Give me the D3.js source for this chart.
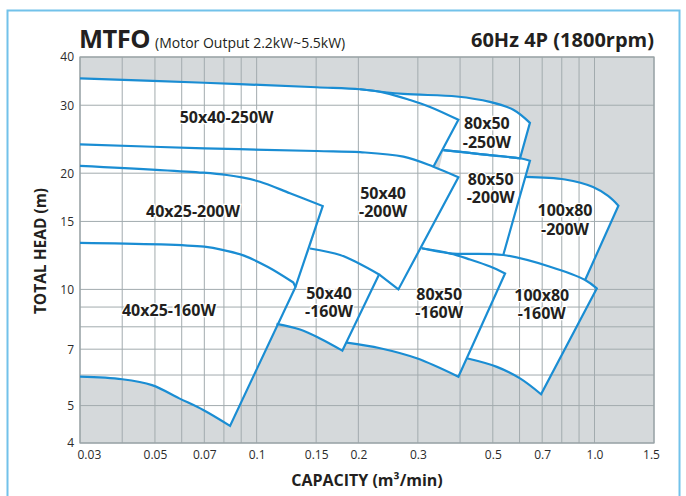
<!DOCTYPE html>
<html>
<head>
<meta charset="utf-8">
<script src="https://cdn.jsdelivr.net/npm/d3@7"></script>
<style>
  body { margin: 0; background: #fff; }
  text { font-family: "Open Sans", "Noto Sans", sans-serif; }
</style>
</head>
<body>
<div id="chart"></div>
<script>
const width = 686, height = 496;

// axis ticks and grid
const xTicks = [0.03, 0.05, 0.07, 0.1, 0.15, 0.2, 0.3, 0.5, 0.7, 1.0, 1.5];
const xTickLabels = ["0.03", "0.05", "0.07", "0.1", "0.15", "0.2", "0.3", "0.5", "0.7", "1.0", "1.5"];
const xGrid = [0.03, 0.04, 0.05, 0.06, 0.07, 0.08, 0.09, 0.1, 0.15, 0.2, 0.3, 0.4, 0.5, 0.6, 0.7, 0.8, 0.9, 1.0, 1.5];
const yTicks = [40, 30, 20, 15, 10, 7, 5, 4];
const yGrid = [4, 5, 6, 7, 8, 9, 10, 15, 20, 30, 40];

// pump curves [capacity m3/min, head m]
const top_40x25_160W = [[0.03, 13.2], [0.07, 12.9], [0.081, 12.6], [0.0913, 12.25], [0.108, 11.43], [0.1284, 10.42]];
const hook_40x25 = [0.1303, 10.15];
const bot_40x25_160W = [[0.03, 5.94], [0.040, 5.85], [0.049, 5.65], [0.059, 5.22], [0.0695, 4.87], [0.0834, 4.43]];

const top_40x25_200W = [[0.03, 20.9], [0.0695, 20.06], [0.0816, 19.79], [0.0913, 19.47], [0.1023, 19.01], [0.1255, 17.75], [0.1569, 16.44]];

const top_50x40_160W = [[0.1439, 12.76], [0.1766, 12.28], [0.1996, 11.7], [0.2303, 10.93]];
const bot_50x40_160W = [[0.1145, 8.14], [0.1344, 7.87], [0.154, 7.46], [0.1793, 6.94]];

const top_50x40_200W = [[0.03, 23.76], [0.070, 23.2], [0.1506, 22.83], [0.2023, 22.67], [0.2718, 22.07], [0.3335, 20.79], [0.3955, 19.52]];
const edge_50x40_200W = [[0.2627, 10.0], [0.2303, 10.93]];

const top_50x40_250W = [[0.03, 35.2], [0.070, 34.3], [0.1506, 33.4], [0.2023, 33.0], [0.2399, 32.3], [0.2845, 30.95], [0.326, 29.7], [0.3955, 27.5]];

const top_80x50_250W = [[0.2023, 33.0], [0.2718, 32.1], [0.391, 31.6], [0.49, 30.6], [0.575, 29.2], [0.644, 27.0]];
const bot_80x50_250W = [[0.357, 22.96], [0.458, 22.42], [0.602, 21.86]];

const top_80x50_200W = [[0.357, 22.96], [0.458, 22.42], [0.602, 21.86], [0.644, 21.55]];

const top_100x80_200W = [[0.623, 19.56], [0.818, 19.26], [0.99, 18.42], [1.097, 17.46], [1.177, 16.48]];

const top_100x80_160W = [[0.308, 12.78], [0.3735, 12.4], [0.537, 12.28], [0.7386, 11.45], [0.938, 10.58], [1.0155, 10.06]];
const bot_100x80_160W = [[0.4187, 6.63], [0.514, 6.30], [0.602, 5.88], [0.6946, 5.35]];

const top_80x50_160W = [[0.308, 12.78], [0.3735, 12.39], [0.428, 11.95], [0.491, 11.46], [0.5436, 11.0]];
const bot_80x50_160W = [[0.1848, 7.28], [0.232, 7.04], [0.2977, 6.63], [0.3955, 5.94]];

// model labels
const labelLines = [["50x40-250W"], ["40x25-200W"], ["40x25-160W"], ["50x40", "-200W"], ["80x50", "-250W"],
  ["80x50", "-200W"], ["100x80", "-200W"], ["50x40", "-160W"], ["80x50", "-160W"], ["100x80", "-160W"]];
const labelQ = [0.0815, 0.0648, 0.055, 0.2367, 0.48, 0.493, 0.818, 0.1638, 0.347, 0.698];
const labelH = [27.97, 15.96, 8.84, 17.74, 26.9, 19.3, 15.99, 9.77, 9.71, 9.67];

const rev = a => a.slice().reverse();

// outline (stroked) and extra fill-only boundary for each model region
const models = [
  { line: [top_40x25_160W, [hook_40x25], rev(bot_40x25_160W)] },
  { line: [top_40x25_200W, [hook_40x25]], under: [rev(top_40x25_160W)] },
  { line: [top_50x40_160W, rev(bot_50x40_160W)] },
  { line: [top_50x40_200W, edge_50x40_200W], under: [rev(top_50x40_160W), rev(top_40x25_200W)] },
  { line: [top_50x40_250W, [top_50x40_200W[5]]], under: [rev(top_50x40_200W.slice(0, 6))] },
  { line: [top_80x50_250W, rev(bot_80x50_250W)] },
  { line: [top_80x50_200W, [top_100x80_160W[2]]], under: [rev(top_100x80_160W.slice(0, 3))] },
  { line: [top_100x80_200W, [top_100x80_160W[4]]], under: [rev(top_100x80_160W.slice(2, 5))] },
  { line: [top_100x80_160W, rev(bot_100x80_160W)] },
  { line: [top_80x50_160W, rev(bot_80x50_160W)], under: [rev(edge_50x40_200W)] }
];

const svg = d3.select("#chart").append("svg")
  .attr("width", width)
  .attr("height", height);

// frame
svg.append("rect")
  .attr("x", 7.5).attr("y", 10.5)
  .attr("width", 672).attr("height", 520)
  .attr("fill", "#fff")
  .attr("stroke", "#72c2ea")
  .attr("stroke-width", 2);

const x = d3.scaleLog().domain([0.03, 1.5]).range([80, 654]);
const y = d3.scaleLog().domain([4, 40]).range([443, 57]);

svg.append("rect")
  .attr("x", x(0.03)).attr("y", y(40))
  .attr("width", x(1.5) - x(0.03)).attr("height", y(4) - y(40))
  .attr("fill", "#d5d9db");

const curve = d3.line()
  .x(d => x(d[0]))
  .y(d => y(d[1]))
  .curve(d3.curveCatmullRom.alpha(0.5));

function segPath(pts, first) {
  if (pts.length >= 3) {
    const s = curve(pts);
    return first ? s : "L" + s.slice(1);
  }
  return pts.map((p, i) => (first && i === 0 ? "M" : "L") + x(p[0]) + "," + y(p[1])).join("");
}
function build(segs) {
  return segs.map((s, i) => segPath(s, i === 0)).join("");
}

// white regions
svg.append("g").selectAll("path")
  .data(models)
  .enter()
  .append("path")
  .attr("d", d => build(d.line.concat(d.under || [])) + "Z")
  .attr("fill", "#fff");

// grid
const grid = svg.append("g").attr("stroke", "#a2abae").attr("stroke-width", 1);
grid.selectAll(".gx").data(xGrid).enter().append("line")
  .attr("x1", d => x(d)).attr("x2", d => x(d))
  .attr("y1", y(4)).attr("y2", y(40));
grid.selectAll(".gy").data(yGrid).enter().append("line")
  .attr("y1", d => y(d)).attr("y2", d => y(d))
  .attr("x1", x(0.03)).attr("x2", x(1.5));

svg.append("rect")
  .attr("x", x(0.03)).attr("y", y(40))
  .attr("width", x(1.5) - x(0.03)).attr("height", y(4) - y(40))
  .attr("fill", "none")
  .attr("stroke", "#98a2a5")
  .attr("stroke-width", 1.2);

// pump outlines
svg.append("g").selectAll("path")
  .data(models)
  .enter()
  .append("path")
  .attr("d", d => build(d.line))
  .attr("fill", "none")
  .attr("stroke", "#1a8dd3")
  .attr("stroke-width", 2.2)
  .attr("stroke-linejoin", "miter");

// axes
const xAxis = svg.append("g")
  .attr("transform", `translate(0,${y(4)})`)
  .call(d3.axisBottom(x).tickValues(xTicks).tickFormat((d, i) => xTickLabels[i]).tickSize(0).tickPadding(7));
const yAxis = svg.append("g")
  .attr("transform", `translate(${x(0.03)},0)`)
  .call(d3.axisLeft(y).tickValues(yTicks).tickFormat(d3.format("d")).tickSize(0).tickPadding(6));
[xAxis, yAxis].forEach(a => {
  a.select(".domain").remove();
  a.selectAll("text")
    .attr("font-family", "'Open Sans', sans-serif")
    .attr("font-size", "12px")
    .attr("fill", "#2b2b2b");
});
// first capacity label sits inside the corner, last one pulled in a bit
xAxis.selectAll(".tick text")
  .filter((d, i) => i === 0)
  .attr("text-anchor", "start")
  .attr("dx", -3);
xAxis.selectAll(".tick text")
  .filter((d, i, n) => i === n.length - 1)
  .attr("dx", -3);

// region labels
const lab = svg.append("g").selectAll("text")
  .data(labelLines)
  .enter()
  .append("text")
  .attr("x", (d, i) => x(labelQ[i]))
  .attr("y", (d, i) => y(labelH[i]))
  .attr("text-anchor", "middle")
  .attr("font-size", "16px")
  .attr("font-weight", "bold")
  .attr("fill", "#231f20")
  .attr("stroke", "#fff")
  .attr("stroke-width", 2.5)
  .attr("paint-order", "stroke");
lab.selectAll("tspan")
  .data(d => d)
  .enter()
  .append("tspan")
  .attr("x", function() { return d3.select(this.parentNode).attr("x"); })
  .attr("dy", (d, i) => i === 0 ? "0.35em" : "1.15em")
  .text(d => d);

// titles
svg.append("text")
  .attr("x", 79).attr("y", 48)
  .attr("font-size", "25.5px")
  .attr("font-weight", "bold")
  .attr("fill", "#231f20")
  .attr("letter-spacing", "-0.5px")
  .text("MTFO");
svg.append("text")
  .attr("x", 155).attr("y", 47.5)
  .attr("font-size", "14px")
  .attr("fill", "#231f20")
  .text("(Motor Output 2.2kW~5.5kW)");
svg.append("text")
  .attr("x", 654).attr("y", 47)
  .attr("text-anchor", "end")
  .attr("font-size", "20px")
  .attr("font-weight", "bold")
  .attr("fill", "#231f20")
  .text("60Hz 4P (1800rpm)");

svg.append("text")
  .attr("transform", "translate(46,251) rotate(-90)")
  .attr("text-anchor", "middle")
  .attr("font-size", "15.5px")
  .attr("font-weight", "bold")
  .attr("fill", "#231f20")
  .text("TOTAL HEAD (m)");
svg.append("text")
  .attr("x", 367).attr("y", 486)
  .attr("text-anchor", "middle")
  .attr("font-size", "16px")
  .attr("font-weight", "bold")
  .attr("fill", "#231f20")
  .text("CAPACITY (m³/min)");
</script>
</body>
</html>
